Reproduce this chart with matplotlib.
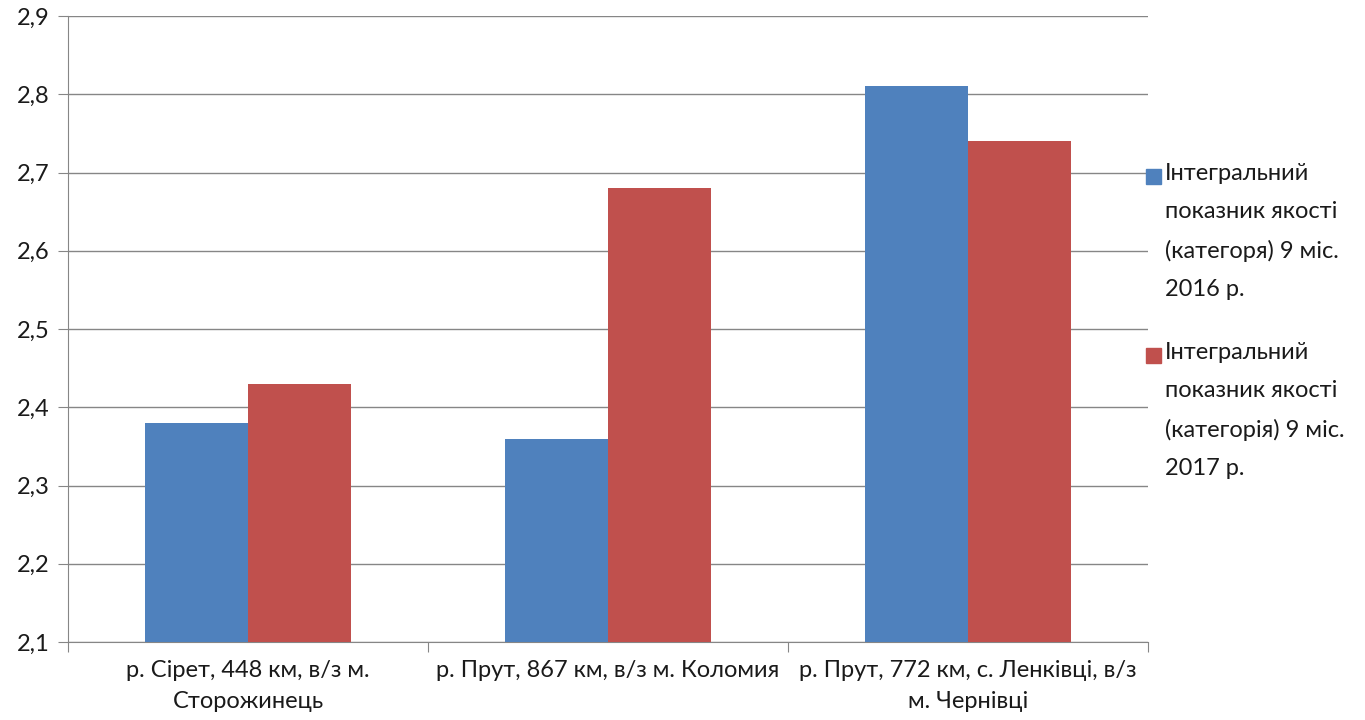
import numpy as np
import matplotlib.pyplot as plt
import matplotlib.patches as mpatches
from matplotlib.ticker import FixedLocator, FuncFormatter

plt.rcParams['font.family'] = ['Lato', 'DejaVu Sans']

# Пункти спостережень та значення показника
posts = ['р. Сірет, 448 км, в/з м.\nСторожинець',
         'р. Прут, 867 км, в/з м. Коломия',
         'р. Прут, 772 км, с. Ленківці, в/з\nм. Чернівці']
val_2016 = [2.38, 2.36, 2.81]
val_2017 = [2.43, 2.68, 2.74]
lbl_2016 = 'Інтегральний\nпоказник якості\n(категоря) 9 міс.\n2016 р.'
lbl_2017 = 'Інтегральний\nпоказник якості\n(категорія) 9 міс.\n2017 р.'

blue = '#4F81BD'
red = '#C0504D'
grid_c = '#868686'
txt_c = '#1a1a1a'

fig = plt.figure(figsize=(13.65, 7.2), dpi=100)
ax = fig.add_axes((68 / 1365, 1 - 642 / 720, 1080 / 1365, 626 / 720))

x = np.arange(len(posts))
w = 0.286
ymin = 2.1
ax.bar(x - w / 2, np.array(val_2016) - ymin, w, bottom=ymin, color=blue, zorder=3)
ax.bar(x + w / 2, np.array(val_2017) - ymin, w, bottom=ymin, color=red, zorder=3)

ax.set_xlim(-0.5, 2.5)
ax.set_ylim(2.1, 2.9)
ax.set_yticks(np.arange(2.1, 2.91, 0.1))
ax.yaxis.set_major_formatter(FuncFormatter(lambda v, p: f'{v:.1f}'.replace('.', ',')))
ax.grid(axis='y', color=grid_c, linewidth=1, zorder=0)

# підписи категорій по центру, риски на межах
ax.xaxis.set_major_locator(FixedLocator([-0.5, 0.5, 1.5, 2.5]))
ax.xaxis.set_major_formatter(FuncFormatter(lambda v, p: ''))
ax.xaxis.set_minor_locator(FixedLocator(x))
ax.set_xticklabels(posts, minor=True)
ax.tick_params(axis='x', which='minor', length=0, pad=13, labelsize=17, labelcolor=txt_c)
ax.tick_params(axis='x', which='major', length=7, color=grid_c)
ax.tick_params(axis='y', length=7, color=grid_c, labelsize=17, labelcolor=txt_c, pad=6)
for lab in ax.get_xticklabels(minor=True):
    lab.set_linespacing(1.6)

for s in ['top', 'right']:
    ax.spines[s].set_visible(False)
for s in ['left', 'bottom']:
    ax.spines[s].set_color(grid_c)

# легенда справа
for lbl, col, ytop in [(lbl_2016, blue, 163), (lbl_2017, red, 342)]:
    fig.patches.append(mpatches.Rectangle((1146 / 1365, 1 - (ytop + 21) / 720), 15 / 1365, 15 / 720,
                                          transform=fig.transFigure, color=col))
    fig.text(1165 / 1365, 1 - ytop / 720, lbl, fontsize=17, va='top', ha='left',
             color=txt_c, linespacing=2.0)

fig.savefig('out.png', dpi=100)
